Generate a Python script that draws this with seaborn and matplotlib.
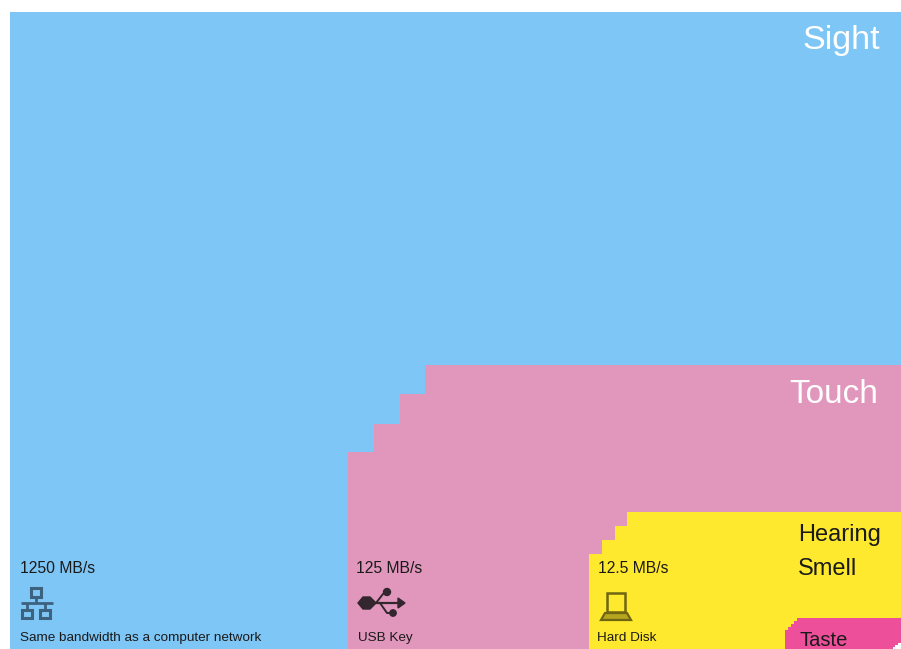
import numpy as np
import matplotlib
matplotlib.use("Agg")
import matplotlib.pyplot as plt
from matplotlib.patches import Circle, Polygon, Rectangle
import seaborn as sns

H = 649

# stair edges (px) and block height above the bottom edge (px)
sight_edges = [10, 901]
sight_heights = [637]
touch_edges = [348, 374, 400, 425, 901]
touch_heights = [197, 225, 255, 284]
hearing_edges = [589, 602, 615, 627, 901]
hearing_heights = [95, 109, 123, 137]
taste_edges = [785, 788, 791, 794, 797, 901]
taste_heights = [19, 22, 25, 28, 31]
inner_edges = [893, 895, 898, 901]
inner_heights = [2, 4, 6]

block_colors = ["#7ec6f5", "#e196bc", "#ffe92e", "#ee4f9b", "#ffffff"]
blocks = [(sight_edges, sight_heights), (touch_edges, touch_heights),
          (hearing_edges, hearing_heights), (taste_edges, taste_heights),
          (inner_edges, inner_heights)]

sns.set_theme(style="white")
plt.rcParams['font.family'] = ['Liberation Sans', 'DejaVu Sans']

fig = plt.figure(figsize=(9.01, 6.49), dpi=100)
ax = fig.add_axes([0, 0, 1, 1])

for (edges, heights), c in zip(blocks, block_colors):
    sns.histplot(x=edges[:-1], weights=heights, bins=edges, element="step",
                 fill=True, color=c, alpha=1, linewidth=0, ax=ax)

ax.set_xlim(0, 901)
ax.set_ylim(0, H)
ax.axis("off")


def label(x, y, s, size, color="#1a1a1a", ha="left"):
    ax.text(x, H - y, s, fontsize=size, color=color, ha=ha, va="baseline")


label(880, 49, "Sight", 24.6, "white", "right")
label(878, 403, "Touch", 24, "white", "right")
label(798, 541, "Hearing", 17)
label(798, 575, "Smell", 17)
label(799, 646, "Taste", 14.5)

label(20, 573, "1250 MB/s", 11.3)
label(20, 641, "Same bandwidth as a computer network", 9.7)
label(356, 573, "125 MB/s", 11.3)
label(358, 641, "USB Key", 9.7)
label(598, 573, "12.5 MB/s", 11.3)
label(597, 641, "Hard Disk", 9.7)


def seg(pts, color, lw=2):
    pts = np.array(pts, dtype=float)
    ax.plot(pts[:, 0], H - pts[:, 1], color=color, lw=lw, solid_capstyle="butt")


def box(x0, y0, x1, y1, color, lw=1.8):
    ax.add_patch(Rectangle((x0, H - y1), x1 - x0, y1 - y0, fill=False, ec=color, lw=lw))


# network icon
net = "#3d6280"
box(31, 588, 41, 597, net, 2.2)
box(22, 610, 32, 618, net, 2.2)
box(40, 610, 50, 618, net, 2.2)
seg([(36, 597), (36, 603)], net)
seg([(21, 603), (53, 603)], net)
seg([(27, 603), (27, 610)], net)
seg([(45, 603), (45, 610)], net)

# usb icon
usb = "#33262f"
ax.add_patch(Polygon([(358, H - 603), (363, H - 597), (370, H - 597), (376, H - 603),
                      (370, H - 609), (363, H - 609)], color=usb))
seg([(372, 603), (399, 603)], usb, 1.6)
ax.add_patch(Polygon([(398, H - 598), (405, H - 603), (398, H - 608)], color=usb))
seg([(376, 603), (383, 594), (386, 593)], usb, 1.4)
ax.add_patch(Circle((387, H - 592), 3.5, color=usb))
seg([(380, 603), (387, 613), (391, 613)], usb, 1.4)
ax.add_patch(Circle((393, H - 613), 3.2, color=usb))

# laptop icon
lap = "#6f6512"
box(607, 593, 625, 612, lap, 1.8)
ax.add_patch(Polygon([(605, H - 613), (627, H - 613), (631, H - 620), (601, H - 620)],
                     closed=True, fc="#b5a51f", ec=lap, lw=1.6))

fig.savefig("out.png", dpi=100)
